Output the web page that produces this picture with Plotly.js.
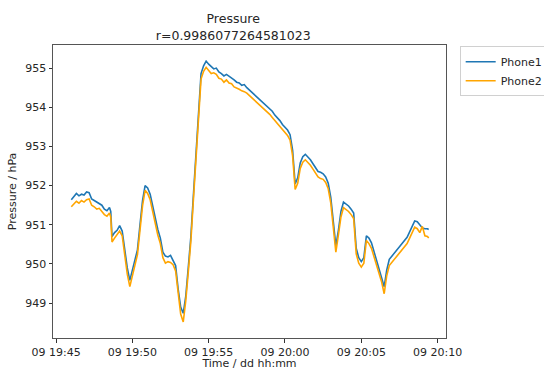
<!DOCTYPE html>
<html>
<head>
<meta charset="utf-8">
<script src="https://cdn.plot.ly/plotly-3.0.1.min.js"></script>
<style>html,body{margin:0;padding:0;background:#fff;}#chart{width:544px;height:370px;}</style>
</head>
<body>
<div id="chart"></div>
<script>
const day = "2019-05-09";
const times = [
"19:46:00","19:46:10","19:46:20","19:46:30","19:46:40","19:46:50",
"19:47:00","19:47:10","19:47:20","19:47:30","19:47:40","19:47:50",
"19:48:00","19:48:10","19:48:20","19:48:30","19:48:35","19:48:40","19:48:50",
"19:49:00","19:49:10","19:49:20","19:49:30","19:49:40","19:49:50",
"19:50:00","19:50:10","19:50:20","19:50:30","19:50:40","19:50:50",
"19:51:00","19:51:10","19:51:20","19:51:30","19:51:40","19:51:50",
"19:52:00","19:52:10","19:52:20","19:52:30","19:52:40","19:52:50",
"19:53:00","19:53:10","19:53:20","19:53:30","19:53:40","19:53:50",
"19:54:00","19:54:10","19:54:20","19:54:30","19:54:40","19:54:50",
"19:55:00","19:55:10","19:55:20","19:55:30","19:55:40","19:55:50",
"19:56:00","19:56:10","19:56:20","19:56:30","19:56:40","19:56:50",
"19:57:00","19:57:10","19:57:20","19:57:30","19:57:40","19:57:50",
"19:58:00","19:58:10","19:58:20","19:58:30","19:58:40","19:58:50",
"19:59:00","19:59:10","19:59:20","19:59:30","19:59:40","19:59:50",
"20:00:00","20:00:10","20:00:20","20:00:30","20:00:40","20:00:50",
"20:01:00","20:01:10","20:01:20","20:01:30","20:01:40","20:01:50",
"20:02:00","20:02:10","20:02:20","20:02:30","20:02:40","20:02:50",
"20:03:00","20:03:10","20:03:20","20:03:30","20:03:40","20:03:50",
"20:04:00","20:04:10","20:04:20","20:04:30","20:04:40","20:04:50",
"20:05:00","20:05:10","20:05:20","20:05:30","20:05:40","20:05:50",
"20:06:00","20:06:10","20:06:20","20:06:30","20:06:40","20:06:50",
"20:07:00","20:07:10","20:07:20","20:07:30","20:07:40","20:07:50",
"20:08:00","20:08:10","20:08:20","20:08:30","20:08:40","20:08:50",
"20:09:00","20:09:10","20:09:20","20:09:25"
];
const phone1 = [
951.64,951.72,951.80,951.74,951.78,951.76,
951.84,951.82,951.66,951.62,951.58,951.56,
951.50,951.40,951.36,951.44,951.34,950.70,950.80,
950.86,950.98,950.84,950.34,949.90,949.58,
949.86,950.14,950.36,951.00,951.62,952.00,
951.94,951.78,951.46,951.12,950.88,950.66,
950.30,950.20,950.18,950.22,950.10,949.96,
949.36,948.90,948.74,949.18,949.92,950.70,
951.76,952.90,954.00,954.86,955.06,955.18,
955.10,955.04,954.98,955.00,954.90,954.86,
954.80,954.84,954.80,954.74,954.70,954.64,
954.62,954.56,954.58,954.50,954.44,954.40,
954.32,954.26,954.22,954.14,954.08,954.04,
953.96,953.90,953.80,953.74,953.66,953.56,
953.50,953.42,953.30,952.90,952.04,952.20,
952.58,952.74,952.80,952.74,952.66,952.56,
952.44,952.36,952.34,952.30,952.22,952.06,
951.70,951.10,950.46,950.86,951.34,951.58,
951.54,951.48,951.40,951.30,950.40,950.16,
950.06,950.16,950.72,950.66,950.54,950.32,
950.12,949.90,949.68,949.42,949.84,950.12,
950.20,950.28,950.38,950.46,950.52,950.60,
950.68,950.82,950.96,951.10,951.08,951.00,
950.92,950.90,950.90,950.88
];
const phone2 = [
951.46,951.52,951.60,951.55,951.62,951.58,
951.64,951.66,951.50,951.46,951.40,951.42,
951.34,951.26,951.22,951.30,951.20,950.56,950.66,
950.74,950.84,950.72,950.20,949.74,949.42,
949.72,950.02,950.24,950.86,951.48,951.88,
951.80,951.64,951.34,951.00,950.74,950.52,
950.16,950.02,950.06,950.04,949.98,949.82,
949.22,948.72,948.52,949.06,949.80,950.58,
951.64,952.78,953.88,954.72,954.92,955.02,
954.94,954.86,954.88,954.84,954.74,954.72,
954.64,954.70,954.62,954.60,954.52,954.50,
954.46,954.42,954.40,954.36,954.30,954.24,
954.18,954.12,954.06,954.00,953.94,953.90,
953.82,953.74,953.66,953.58,953.50,953.42,
953.34,953.28,953.16,952.76,951.90,952.06,
952.44,952.60,952.66,952.60,952.52,952.42,
952.30,952.22,952.18,952.16,952.08,951.92,
951.56,950.96,950.30,950.74,951.20,951.44,
951.40,951.34,951.26,951.16,950.26,950.02,
949.92,950.02,950.60,950.52,950.40,950.18,
949.98,949.76,949.54,949.24,949.70,949.96,
950.04,950.12,950.22,950.30,950.36,950.44,
950.52,950.66,950.80,950.94,950.90,950.80,
950.96,950.72,950.70,950.66
];
const seriesNames = ["Phone1","Phone2"];
const titleText = "Pressure<br>r=0.9986077264581023";

const x = times.map(t => day + " " + t);
const font = {family: "DejaVu Sans, sans-serif", size: 11, color: "#262626"};

const data = [
  {x: x, y: phone1, type: "scatter", mode: "lines", name: seriesNames[0],
   line: {color: "#1f77b4", width: 1.6}},
  {x: x, y: phone2, type: "scatter", mode: "lines", name: seriesNames[1],
   line: {color: "#ffa500", width: 1.6}}
];

const layout = {
  width: 544, height: 370,
  margin: {l: 53, r: 98, t: 45, b: 32, autoexpand: false},
  paper_bgcolor: "#fff", plot_bgcolor: "#fff",
  font: font,
  title: {text: titleText, font: {family: "DejaVu Sans, sans-serif", size: 12.5, color: "#262626"},
          x: 0.4586, xanchor: "center", xref: "paper", yref: "container", y: 0.937, yanchor: "top"},
  xaxis: {
    type: "date", automargin: false,
    range: [day + " 19:44:48", day + " 20:10:33"],
    tick0: day + " 19:45:00", dtick: 300000, tickformat: "%d %H:%M",
    ticks: "outside", ticklen: 3.5, tickcolor: "#333", tickwidth: 1,
    showgrid: false, zeroline: false,
    showline: true, linecolor: "#555", linewidth: 1, mirror: true,
    tickfont: {size: 11, color: "#262626"},
    title: {text: "Time / dd hh:mm", font: {size: 11, color: "#262626"}, standoff: 9}
  },
  yaxis: {
    automargin: false,
    range: [948.11, 955.59], dtick: 1, tick0: 949,
    ticks: "outside", ticklen: 3.5, tickcolor: "#333", tickwidth: 1,
    showgrid: false, zeroline: false,
    showline: true, linecolor: "#555", linewidth: 1, mirror: true,
    tickfont: {size: 11, color: "#262626"},
    title: {text: "Pressure / hPa", font: {size: 11, color: "#262626"}, standoff: 6}
  },
  legend: {xref: "container", yref: "container", x: 0.845, xanchor: "left", y: 0.875, yanchor: "top",
           bordercolor: "#d0d0d0", borderwidth: 1, bgcolor: "#fff",
           font: {size: 11, color: "#262626"}, tracegroupgap: 0, itemwidth: 30},
  showlegend: true
};

Plotly.newPlot("chart", data, layout, {displayModeBar: false, staticPlot: true});
</script>
</body>
</html>
